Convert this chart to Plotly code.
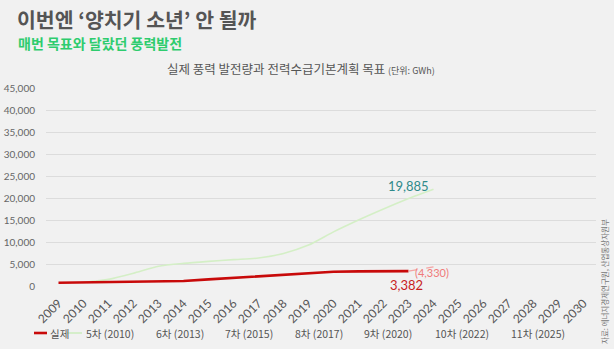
import plotly.graph_objects as go

years = list(range(2009, 2031))

actual_years = list(range(2009, 2024))
actual_vals = [750, 830, 900, 1050, 1200, 1140, 1500, 1880, 2250, 2600, 2900, 3250, 3320, 3400, 3382]

plan5_years = list(range(2010, 2025))
plan5_vals = [800, 1500, 2900, 4500, 5150, 5600, 6000, 6350, 7400, 9300, 12300, 15000, 17500, 19885, 22000]

proj_years = [2023, 2024]
proj_vals = [3382, 4330]

legend_labels = ["실제", "5차 (2010)", "6차 (2013)", "7차 (2015)", "8차 (2017)", "9차 (2020)", "10차 (2022)", "11차 (2025)"]
yticks = list(range(0, 45001, 5000))

W, H = 614, 349
L, R, T, B = 46, 18, 88, 63
PW, PH = W - L - R, H - T - B

def px(x):
    return (x - L) / PW

def py(y):
    return (H - B - y) / PH

KR = "Noto Sans CJK KR"
fig = go.Figure()

fig.add_trace(go.Scatter(x=plan5_years, y=plan5_vals, mode="lines",
                         line=dict(color="#d4efc6", width=1.6, shape="spline", smoothing=0.6),
                         showlegend=False, hoverinfo="skip"))
fig.add_trace(go.Scatter(x=actual_years, y=actual_vals, mode="lines",
                         line=dict(color="#c80a0a", width=2.6),
                         showlegend=False, hoverinfo="skip"))
fig.add_trace(go.Scatter(x=proj_years, y=proj_vals, mode="lines",
                         line=dict(color="#f4a4a4", width=1.2, dash="dash"),
                         showlegend=False, hoverinfo="skip"))

annotations = [
    dict(x=2023, y=plan5_vals[-2], text="19,885", showarrow=False, xref="x", yref="y",
         yshift=13, font=dict(family="Lato", size=13, color="#2f8a8a")),
    dict(x=2023, y=proj_vals[0], text="3,382", showarrow=False, xref="x", yref="y",
         yshift=-14, xshift=-2, font=dict(family="Lato", size=13, color="#c81e1e")),
    dict(x=2024, y=proj_vals[1], text="(4,330)", showarrow=False, xref="x", yref="y",
         yshift=-6, xshift=-2, font=dict(family="Lato", size=11, color="#f07a7a")),
    dict(x=px(15), y=py(19), xref="paper", yref="paper", xanchor="left", yanchor="middle",
         text="<b>이번엔 ‘양치기 소년’ 안 될까</b>", showarrow=False,
         font=dict(family=KR, size=20.5, color="#555555")),
    dict(x=px(16), y=py(43), xref="paper", yref="paper", xanchor="left", yanchor="middle",
         text="<b>매번 목표와 달랐던 풍력발전</b>", showarrow=False,
         font=dict(family=KR, size=14, color="#2ecc6e")),
    dict(x=px(301), y=py(69), xref="paper", yref="paper", xanchor="center", yanchor="middle",
         text="실제 풍력 발전량과 전력수급기본계획 목표 <span style='font-size:9px'>(단위: GWh)</span>",
         showarrow=False, font=dict(family=KR, size=12.5, color="#555555")),
    dict(x=px(604), y=py(282), xref="paper", yref="paper", xanchor="center", yanchor="middle",
         text="자료: 에너지경제연구원, 산업통상자원부", textangle=-90, showarrow=False,
         font=dict(family=KR, size=7.5, color="#777777")),
]

# manual legend
leg_x = [48, 84, 154, 223, 293, 362, 433, 509]
shapes = [
    dict(type="line", xref="paper", yref="paper", x0=px(34), x1=px(47), y0=py(333), y1=py(333),
         line=dict(color="#c80a0a", width=2.6)),
    dict(type="line", xref="paper", yref="paper", x0=px(67), x1=px(82), y0=py(333), y1=py(333),
         line=dict(color="#cfeec0", width=1.6)),
]
for lx, lab in zip(leg_x, legend_labels):
    annotations.append(dict(x=px(lx), y=py(333), xref="paper", yref="paper", xanchor="left",
                            yanchor="middle", text=lab, showarrow=False,
                            font=dict(family=KR, size=10.5, color="#555555")))

fig.update_layout(
    width=W, height=H,
    margin=dict(l=L, r=R, t=T, b=B, autoexpand=False),
    paper_bgcolor="#f1f1f1", plot_bgcolor="#f1f1f1",
    showlegend=False,
    annotations=annotations,
    shapes=shapes,
    xaxis=dict(range=[2008.5, 2030.5], tickmode="array", tickvals=years,
               ticktext=[str(y) for y in years], automargin=False,
               tickangle=-45, showgrid=False, zeroline=False, showline=False,
               tickfont=dict(family="Lato", size=12, color="#555555"), ticks="",
               ticklabelstandoff=7),
    yaxis=dict(range=[0, 45000], tickmode="array", tickvals=yticks, automargin=False,
               ticktext=[f"{v:,}" for v in yticks], showgrid=True, gridcolor="#dcdcdc",
               gridwidth=1, zeroline=False, showline=False, ticks="",
               tickfont=dict(family="Lato", size=10, color="#666666"), ticklabelstandoff=10),
)

fig.write_html("out.html")
